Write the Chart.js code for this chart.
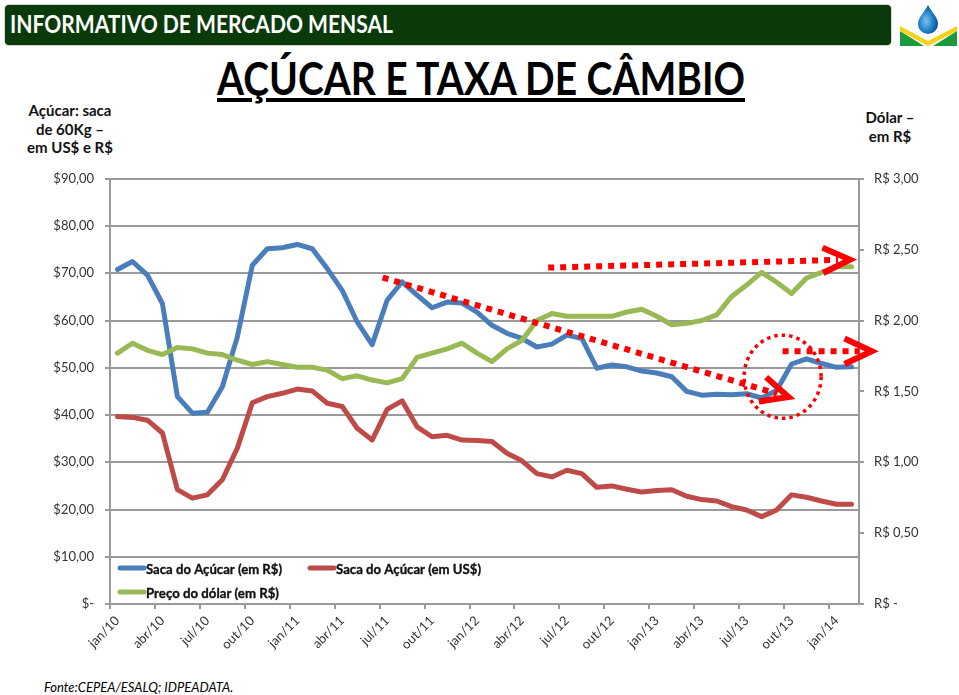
<!DOCTYPE html>
<html><head><meta charset="utf-8">
<script src="https://cdn.jsdelivr.net/npm/chart.js@4.4.1/dist/chart.umd.min.js"></script>
<style>
html,body{margin:0;padding:0;background:#fff;width:959px;height:695px;overflow:hidden;font-family:Lato,"Open Sans",sans-serif;}
#bar{position:absolute;left:5px;top:5px;width:886px;height:40px;background:#0a390a;border-radius:4px;box-shadow:0 0 0 1px #cfd8cf;}
.fit{position:absolute;white-space:nowrap;transform-origin:0 0;line-height:1;}
#bartext{left:10px;top:12px;color:#fff;font-weight:bold;font-size:24px;}
#title{left:217px;top:56px;color:#000;font-weight:bold;font-size:45px;text-decoration:underline;text-decoration-thickness:4px;text-underline-offset:3px;}
.side{position:absolute;text-align:center;font-weight:bold;font-size:15px;line-height:18.5px;color:#111;}
#lside{left:20px;top:101px;width:100px;}
#rside{left:850px;top:108px;width:80px;}
#fonte{position:absolute;left:44px;top:681px;font-style:italic;font-size:13px;line-height:1;color:#000;}
#wrap{position:absolute;left:0;top:160px;width:959px;height:500px;}
#logo{position:absolute;left:897px;top:3px;}
</style></head>
<body>
<div id="bar"></div>
<div id="bartext" class="fit">INFORMATIVO DE MERCADO MENSAL</div>
<svg id="logo" width="62" height="46" viewBox="0 0 62 46">
  <defs><radialGradient id="dg" cx="0.4" cy="0.55" r="0.6"><stop offset="0" stop-color="#7fc3ee"/><stop offset="0.6" stop-color="#1f7fc4"/><stop offset="1" stop-color="#0b4f91"/></radialGradient></defs>
  <rect x="0" y="0" width="62" height="46" fill="#fff"/>
  <polygon points="3,28 3,43 27,43" fill="#1a9a3a"/>
  <polygon points="60,28 60,43 36,43" fill="#1a9a3a"/>
  <polygon points="3,23 31,38 60,23 60,28 31,43 3,28" fill="#f2d21b"/>
  <path d="M31,2 C27,10 21,14 21,21 A10,10 0 0 0 41,21 C41,14 35,10 31,2 Z" fill="url(#dg)"/>
</svg>
<div id="title" class="fit">AÇÚCAR E TAXA DE CÂMBIO</div>
<div id="lside" class="side">Açúcar: saca<br>de 60Kg –<br>em US$ e R$</div>
<div id="rside" class="side">Dólar –<br>em R$</div>
<div id="wrap"><canvas id="c"></canvas></div>
<div id="fonte">Fonte:CEPEA/ESALQ; IDPEADATA.</div>
<script>
// ---- data ----
const months = ['jan/10','fev/10','mar/10','abr/10','mai/10','jun/10','jul/10','ago/10','set/10','out/10','nov/10','dez/10',
'jan/11','fev/11','mar/11','abr/11','mai/11','jun/11','jul/11','ago/11','set/11','out/11','nov/11','dez/11',
'jan/12','fev/12','mar/12','abr/12','mai/12','jun/12','jul/12','ago/12','set/12','out/12','nov/12','dez/12',
'jan/13','fev/13','mar/13','abr/13','mai/13','jun/13','jul/13','ago/13','set/13','out/13','nov/13','dez/13',
'jan/14','fev/14'];
const sacaReais = [70.8,72.5,69.6,63.6,43.9,40.4,40.6,46.0,56.5,71.7,75.2,75.4,76.1,75.2,71.0,66.4,59.7,54.9,64.3,68.2,
65.4,62.7,63.9,63.7,61.8,59.0,57.3,56.2,54.4,55.0,56.9,56.2,49.9,50.6,50.2,49.3,48.9,48.1,45.0,44.2,
44.4,44.3,44.5,43.6,45.2,50.8,51.9,50.9,50.1,50.2];
const sacaDolares = [39.7,39.5,38.9,36.2,24.2,22.4,23.1,26.3,33.0,42.6,43.9,44.6,45.5,45.1,42.5,41.8,37.2,34.7,41.2,43.0,
37.5,35.4,35.7,34.7,34.6,34.4,31.9,30.3,27.6,26.9,28.3,27.6,24.7,25.0,24.3,23.7,24.0,24.2,22.8,22.1,
21.8,20.6,19.9,18.5,19.9,23.1,22.6,21.8,21.1,21.1];
const dolar = [1.77,1.84,1.79,1.76,1.81,1.80,1.77,1.76,1.72,1.69,1.71,1.69,1.67,1.67,1.65,1.59,1.61,1.58,1.56,1.59,
1.74,1.77,1.80,1.84,1.77,1.71,1.80,1.86,2.00,2.05,2.03,2.03,2.03,2.03,2.06,2.08,2.03,1.97,1.98,2.00,
2.04,2.17,2.25,2.34,2.27,2.19,2.30,2.34,2.38,2.38];
const seriesNames = ['Saca do Açúcar (em R$)','Saca do Açúcar (em US$)','Preço do dólar (em R$)'];
const leftTickLabels = ['$-','$10,00','$20,00','$30,00','$40,00','$50,00','$60,00','$70,00','$80,00','$90,00'];
const rightTickLabels = ['R$ -','R$ 0,50','R$ 1,00','R$ 1,50','R$ 2,00','R$ 2,50','R$ 3,00'];
// annotation arrows (category index, left-axis value)
const arrowLines = [
  {from:[17.7,69.1], to:[44.8,43.8]},
  {from:[28.75,71.2], to:[48.9,72.9]},
  {from:[44.4,53.5], to:[50.35,53.5]}
];
const ellipseNote = {center:[44.4,48.1], rx:2.57, ry:8.8};

// ---- fit header texts ----
function fit(id,w){const el=document.getElementById(id);const cw=el.getBoundingClientRect().width;el.style.transform='scaleX('+(w/cw)+')';}
fit('bartext',383); fit('title',528);

const GRID='#9a9a9a';
const FONT='Lato, "Open Sans", sans-serif';

const legendPlugin = {
  id:'insideLegend',
  afterDraw(chart){
    const {ctx, chartArea:a} = chart;
    const items=[{ds:0,x:8,y:-36,w:136},{ds:1,x:198,y:-36,w:145},{ds:2,x:8,y:-12,w:133}];
    ctx.save();
    ctx.font='bold 14px '+FONT;
    ctx.textBaseline='middle';
    items.forEach(it=>{
      const ds=chart.data.datasets[it.ds];
      const x=a.left+it.x, y=a.bottom+it.y;
      ctx.strokeStyle=ds.borderColor; ctx.lineWidth=5; ctx.lineCap='round';
      ctx.beginPath(); ctx.moveTo(x+2,y); ctx.lineTo(x+26,y); ctx.stroke();
      const tw=ctx.measureText(ds.label).width;
      ctx.save(); ctx.translate(x+28,y+1); ctx.scale(it.w/tw,1);
      ctx.fillStyle='#111'; ctx.fillText(ds.label,0,0);
      ctx.strokeStyle='#111'; ctx.lineWidth=0.35; ctx.strokeText(ds.label,0,0);
      ctx.restore();
    });
    ctx.restore();
  }
};

const notesPlugin = {
  id:'notes',
  afterDatasetsDraw(chart){
    const {ctx} = chart; const xs=chart.scales.x, ys=chart.scales.y;
    const P=(p)=>[xs.getPixelForValue(p[0]), ys.getPixelForValue(p[1])];
    ctx.save();
    ctx.strokeStyle='#ff0000';
    arrowLines.forEach(a=>{
      const [x0,y0]=P(a.from), [x1,y1]=P(a.to);
      const dx=x1-x0, dy=y1-y0, L=Math.hypot(dx,dy), ux=dx/L, uy=dy/L;
      ctx.lineWidth=6; ctx.lineCap='butt'; ctx.setLineDash([6,6]);
      ctx.beginPath(); ctx.moveTo(x0,y0); ctx.lineTo(x1-ux*12,y1-uy*12); ctx.stroke();
      ctx.setLineDash([]); ctx.lineWidth=6; ctx.lineJoin='miter';
      const ang=25*Math.PI/180, len=30;
      const bx=-ux, by=-uy;
      const r1=[bx*Math.cos(ang)-by*Math.sin(ang), bx*Math.sin(ang)+by*Math.cos(ang)];
      const r2=[bx*Math.cos(-ang)-by*Math.sin(-ang), bx*Math.sin(-ang)+by*Math.cos(-ang)];
      ctx.beginPath();
      ctx.moveTo(x1+r1[0]*len,y1+r1[1]*len); ctx.lineTo(x1,y1); ctx.lineTo(x1+r2[0]*len,y1+r2[1]*len);
      ctx.stroke();
    });
    const [cx,cy]=P(ellipseNote.center);
    const rx=xs.getPixelForValue(ellipseNote.center[0]+ellipseNote.rx)-cx;
    const ry=cy-ys.getPixelForValue(ellipseNote.center[1]+ellipseNote.ry);
    ctx.lineWidth=3.5; ctx.setLineDash([3.5,4]);
    ctx.beginPath(); ctx.ellipse(cx,cy,rx,ry,0,0,Math.PI*2); ctx.stroke();
    ctx.restore();
  }
};

new Chart(document.getElementById('c'),{
  type:'line',
  data:{
    labels:months,
    datasets:[
      {label:seriesNames[0],data:sacaReais,borderColor:'#4a7ebb',yAxisID:'y',order:3},
      {label:seriesNames[1],data:sacaDolares,borderColor:'#be4b48',yAxisID:'y',order:2},
      {label:seriesNames[2],data:dolar,borderColor:'#98b954',yAxisID:'y1',order:1}
    ]
  },
  options:{
    responsive:true, maintainAspectRatio:false, animation:false, devicePixelRatio:1,
    layout:{padding:{top:18,left:0,right:0,bottom:0}},
    elements:{line:{borderWidth:5,tension:0,borderCapStyle:'round',borderJoinStyle:'round',fill:false},point:{radius:0,hoverRadius:0}},
    plugins:{legend:{display:false},tooltip:{enabled:false},title:{display:false}},
    scales:{
      x:{
        type:'category', offset:true,
        grid:{display:true,offset:true,drawOnChartArea:false,drawTicks:true,tickLength:5,lineWidth:2,
          color:(c)=> (c.index!==undefined && c.index%3===0) ? GRID : 'rgba(0,0,0,0)'},
        border:{display:true,color:GRID,width:2},
        ticks:{autoSkip:false,maxRotation:45,minRotation:45,padding:4,color:'#333',font:{family:FONT,size:13},
          callback:function(v,i){return i%3===0 ? months[i] : '';}},
        afterFit:(s)=>{s.height=56;}
      },
      y:{
        type:'linear',position:'left',min:0,max:90,
        grid:{color:GRID,lineWidth:2,tickLength:5},
        border:{display:true,color:GRID,width:2},
        ticks:{stepSize:10,padding:11,color:'#333',font:{family:FONT,size:13},
          callback:function(v,i){return leftTickLabels[i];}},
        afterFit:(s)=>{s.width=110;}
      },
      y1:{
        type:'linear',position:'right',min:0,max:3,
        grid:{drawOnChartArea:false,color:GRID,lineWidth:2,tickLength:5},
        border:{display:true,color:GRID,width:2},
        ticks:{stepSize:0.5,padding:10,color:'#333',font:{family:FONT,size:13},
          callback:function(v,i){return rightTickLabels[i];}},
        afterFit:(s)=>{s.width=100;}
      }
    }
  },
  plugins:[notesPlugin,legendPlugin]
});
</script>
</body></html>
